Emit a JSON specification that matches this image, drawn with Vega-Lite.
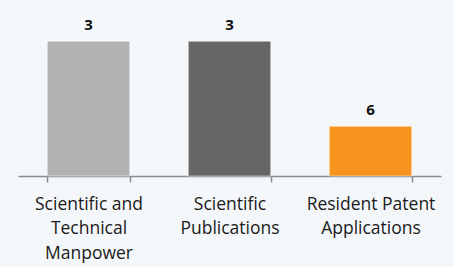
{
  "$schema": "https://vega.github.io/schema/vega-lite/v6.json",
  "autosize": "none",
  "width": 423,
  "height": 176,
  "padding": {"left": 18, "top": 0, "right": 13, "bottom": 91},
  "background": "#f4f7f9",
  "config": {"view": {"stroke": null}},
  "data": {
    "values": [
      {"indicator": "Scientific and Technical Manpower", "rank": 3, "color": "#b2b2b2"},
      {"indicator": "Scientific Publications", "rank": 3, "color": "#666666"},
      {"indicator": "Resident Patent Applications", "rank": 6, "color": "#f7941d"}
    ]
  },
  "encoding": {
    "x": {
      "field": "indicator",
      "type": "nominal",
      "sort": null,
      "scale": {"paddingInner": 0.415, "paddingOuter": 0.2075},
      "axis": {
        "title": null,
        "labelAngle": 0,
        "tickBand": "extent",
        "tickSize": 6,
        "tickColor": "#8c8c8c",
        "tickWidth": 1.5,
        "domainColor": "#8c8c8c",
        "domainWidth": 1.5,
        "labelFont": "Open Sans",
        "labelFontSize": 17.5,
        "labelColor": "#1a1a1a",
        "labelPadding": 27,
        "labelLineHeight": 24.5,
        "labelBaseline": "alphabetic",
        "labelLimit": 200,
        "labelExpr": "datum.label == 'Scientific and Technical Manpower' ? ['Scientific and', 'Technical', 'Manpower'] : datum.label == 'Scientific Publications' ? ['Scientific', 'Publications'] : datum.label == 'Resident Patent Applications' ? ['Resident Patent', 'Applications'] : ''"
      }
    },
    "y": {
      "field": "rank",
      "type": "quantitative",
      "scale": {"domain": [1.55, 7.75], "reverse": true, "nice": false, "zero": false},
      "axis": null
    }
  },
  "layer": [
    {
      "mark": {"type": "bar", "stroke": "#ffffff", "strokeOpacity": 0.5, "strokeWidth": 1},
      "encoding": {
        "y2": {"datum": 7.75},
        "color": {"field": "color", "type": "nominal", "scale": null, "legend": null}
      }
    },
    {
      "mark": {"type": "text", "dy": -11.5, "baseline": "alphabetic", "font": "Open Sans", "fontSize": 15, "fontWeight": "bold", "color": "#111111"},
      "encoding": {
        "text": {"field": "rank", "type": "quantitative"}
      }
    }
  ]
}
